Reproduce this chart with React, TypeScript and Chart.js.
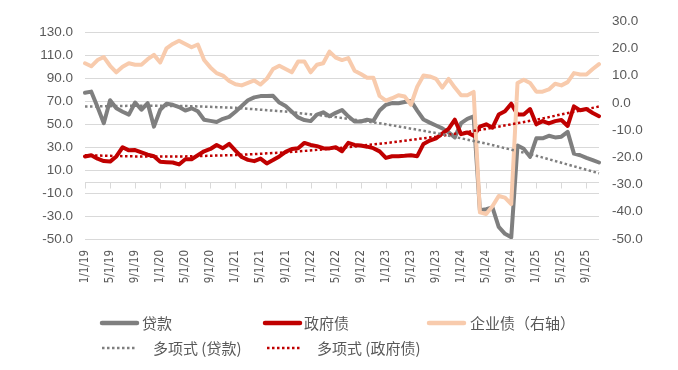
import React, { useEffect, useRef } from 'react';
import { Chart, registerables } from 'chart.js';

Chart.register(...registerables);

// Monthly categories: 1/1/19 ... 11/1/25
const months: string[] = [];
for (let y = 2019; y <= 2025; y++) {
  for (let m = 1; m <= 12; m++) {
    if (y === 2025 && m > 11) break;
    months.push(`${m}/1/${String(y).slice(2)}`);
  }
}

// 贷款 (left axis)
const loans: number[] = [
  77.5, 78.5, 65, 51, 71, 64, 61, 58.5, 69, 62.7,
  68.4, 48, 62.7, 68, 67, 65, 62, 64, 61.4, 54,
  53, 52, 54.8, 56.5, 61, 66, 71, 73.5, 74.6, 74.7,
  74.8, 69, 66, 61, 56, 53.7, 52.8, 58.5, 60.5, 57,
  60, 62.5, 57, 52.5, 52.5, 54, 53, 62, 67, 68.5,
  68.4, 69.5, 70.4, 62, 54.2, 51.5, 49, 46.5, 43, 38.6,
  51, 54.8, 57, -25, -24, -22.5, -39.5, -45.5, -48.5, 31.5,
  28.6, 21.6, 37.8, 37.8, 40, 38.6, 39.2, 43.4, 24.4, 23,
  20.7, 18.8, 16.7,
];

// 政府债 (left axis)
const gov: number[] = [
  22, 23, 20, 18, 17.5, 22, 30, 27.3, 27.5, 25.5,
  23.5, 22.2, 17.3, 17, 16.7, 15, 19.6, 19.6, 23, 26.5,
  28.5, 32, 29.2, 32.9, 27, 21.5, 19, 17.9, 20.1, 15.9,
  18.8, 22, 26, 28.5, 29.2, 33.8, 32, 31, 29.2, 29,
  30, 26.5, 33.8, 32, 31.5, 30.5, 29.2, 26.4, 20.7, 22.2,
  22.2, 22.5, 23, 22.2, 32.9, 35.8, 37.8, 42, 46, 54,
  41.4, 42.9, 40, 48, 50, 47, 58.5, 61.4, 68, 58.5,
  58.5, 63.3, 50, 52.8, 50.8, 52.8, 53.7, 48.6, 65.6, 62.2,
  63.3, 59.9, 57.1,
];

// 企业债 (right axis)
const corp: number[] = [
  14.5, 13.4, 15.7, 16.8, 13.6, 11.2, 13.2, 14.5, 14, 14,
  16, 17.6, 14.8, 20, 21.6, 22.8, 21.6, 20.4, 21.4, 15.7,
  13, 10.9, 10, 8, 6.8, 6.4, 7.3, 8.2, 6.7, 8.8,
  12.4, 13.6, 12.4, 11.2, 15.2, 15.2, 11.2, 14, 14.5, 18.8,
  16.6, 15.7, 16.4, 11.8, 10.6, 9.2, 9.2, 2.5, 0.8, 1.7,
  2.8, 2.3, -0.7, 5.9, 10, 9.7, 8.8, 5.6, 8.8, 5.6,
  2.8, 2.8, 4, -40.2, -40.8, -38, -34.2, -34.8, -37.2, 7.3,
  8.5, 7.3, 4.1, 4.1, 4.9, 7, 6.4, 7.6, 10.9, 10.4,
  10.4, 12.4, 14.2,
];

// Trendline values read at sample months
const trendIdx: number[] = [0, 8, 16, 24, 32, 40, 48, 56, 64, 72, 82];
const loansTrendVals: number[] = [65.5, 66.2, 66, 64.4, 61.1, 56.3, 50.1, 42.4, 33.2, 22.6, 7.3];
const govTrendVals: number[] = [23, 22, 22, 23.2, 25.5, 29, 33.6, 39.2, 46, 54, 65.5];

const leftTicks: number[] = [-50, -30, -10, 10, 30, 50, 70, 90, 110, 130];

const sparse = (vals: number[]) => {
  const arr: (number | null)[] = months.map(() => null);
  trendIdx.forEach((idx, k) => { arr[idx] = vals[k]; });
  return arr;
};

const TEXT = '#595959';
const GRAY = '#7f7f7f';
const RED = '#c00000';
const PEACH = '#f8cbad';

const axisPlugin = {
  id: 'zeroAxis',
  beforeDatasetsDraw(chart: any) {
    const { ctx, chartArea, scales } = chart;
    const y = Math.round(scales.y.getPixelForValue(0)) + 0.5;
    ctx.save();
    ctx.strokeStyle = '#d9d9d9';
    ctx.lineWidth = 1;
    ctx.beginPath();
    ctx.moveTo(chartArea.left, y);
    ctx.lineTo(chartArea.right, y);
    for (let i = 0; i < months.length; i += 4) {
      const x = Math.round(scales.x.getPixelForValue(i)) + 0.5;
      ctx.moveTo(x, y);
      ctx.lineTo(x, y + 6);
    }
    ctx.stroke();
    ctx.restore();
  },
};

const legendItems = [
  { text: '贷款', color: GRAY, dotted: false, x: 100, tx: 142, y: 323 },
  { text: '政府债', color: RED, dotted: false, x: 263, tx: 304, y: 323 },
  { text: '企业债（右轴）', color: PEACH, dotted: false, x: 427, tx: 470, y: 323 },
  { text: '多项式 (贷款)', color: GRAY, dotted: true, x: 100, tx: 153, y: 348 },
  { text: '多项式 (政府债)', color: RED, dotted: true, x: 265, tx: 317, y: 348 },
];

const legendPlugin = {
  id: 'customLegend',
  afterDraw(chart: any) {
    const { ctx } = chart;
    ctx.save();
    legendItems.forEach((it) => {
      ctx.beginPath();
      ctx.strokeStyle = it.color;
      if (it.dotted) {
        ctx.lineWidth = 2.5;
        ctx.setLineDash([2.5, 2.5]);
        ctx.lineCap = 'butt';
      } else {
        ctx.lineWidth = 4.5;
        ctx.setLineDash([]);
        ctx.lineCap = 'round';
      }
      ctx.moveTo(it.x + 2, it.y);
      ctx.lineTo(it.x + 37, it.y);
      ctx.stroke();
      ctx.setLineDash([]);
      ctx.fillStyle = TEXT;
      ctx.font = '15px "Noto Sans CJK SC", sans-serif';
      ctx.textAlign = 'left';
      ctx.textBaseline = 'middle';
      ctx.fillText(it.text, it.tx, it.y);
    });
    ctx.restore();
  },
};

export default function App() {
  const ref = useRef<HTMLCanvasElement | null>(null);

  useEffect(() => {
    if (!ref.current) return;
    const chart = new Chart(ref.current, {
      type: 'line',
      data: {
        labels: months,
        datasets: [
          {
            label: '多项式 (贷款)', data: sparse(loansTrendVals), yAxisID: 'y',
            borderColor: GRAY, borderWidth: 2.5, borderDash: [2.5, 2.5], spanGaps: true,
            pointRadius: 0, order: 0,
          },
          {
            label: '多项式 (政府债)', data: sparse(govTrendVals), yAxisID: 'y',
            borderColor: RED, borderWidth: 2.5, borderDash: [2.5, 2.5], spanGaps: true,
            pointRadius: 0, order: 1,
          },
          {
            label: '企业债（右轴）', data: corp, yAxisID: 'y1',
            borderColor: PEACH, borderWidth: 4, pointRadius: 0,
            borderJoinStyle: 'round', borderCapStyle: 'round', order: 2,
          },
          {
            label: '政府债', data: gov, yAxisID: 'y',
            borderColor: RED, borderWidth: 4, pointRadius: 0,
            borderJoinStyle: 'round', borderCapStyle: 'round', order: 3,
          },
          {
            label: '贷款', data: loans, yAxisID: 'y',
            borderColor: GRAY, borderWidth: 4, pointRadius: 0,
            borderJoinStyle: 'round', borderCapStyle: 'round', order: 4,
          },
        ],
      },
      options: {
        responsive: true,
        maintainAspectRatio: false,
        animation: false,
        layout: { padding: { top: 16, left: 0, right: 0, bottom: 0 } },
        plugins: { legend: { display: false }, tooltip: { enabled: false } },
        elements: { line: { tension: 0 }, point: { radius: 0 } },
        scales: {
          x: {
            type: 'category',
            offset: false,
            grid: { display: false, drawTicks: false },
            border: { display: false },
            ticks: {
              autoSkip: false,
              maxRotation: 90,
              minRotation: 90,
              padding: 11,
              color: TEXT,
              font: { family: '"DejaVu Sans Condensed", "DejaVu Sans", sans-serif', size: 11.5 },
              callback: (_v: any, i: number) => (i % 4 === 0 ? months[i] : ''),
            },
            afterFit: (s: any) => { s.height = 131; },
          },
          y: {
            position: 'left',
            min: -50,
            max: 140,
            afterBuildTicks: (s: any) => { s.ticks = leftTicks.map((v) => ({ value: v })); },
            grid: { color: '#d9d9d9', lineWidth: 1, drawTicks: false },
            border: { display: false },
            ticks: {
              padding: 12,
              color: TEXT,
              font: { family: '"Liberation Sans", Arial, sans-serif', size: 13.5 },
              callback: (v: any) => Number(v).toFixed(1),
            },
            afterFit: (s: any) => { s.width = 85; },
          },
          y1: {
            position: 'right',
            min: -50,
            max: 30,
            ticks: {
              stepSize: 10,
              padding: 13,
              color: TEXT,
              font: { family: '"Liberation Sans", Arial, sans-serif', size: 13.5 },
              callback: (v: any) => Number(v).toFixed(1),
            },
            grid: { display: false, drawTicks: false },
            border: { display: false },
            afterFit: (s: any) => { s.width = 79; },
          },
        },
      },
      plugins: [axisPlugin, legendPlugin],
    } as any);
    return () => chart.destroy();
  }, []);

  return (
    <div style={{ position: 'fixed', left: 0, top: 0, width: 678, height: 370, background: '#fff' }}>
      <canvas ref={ref} />
    </div>
  );
}
